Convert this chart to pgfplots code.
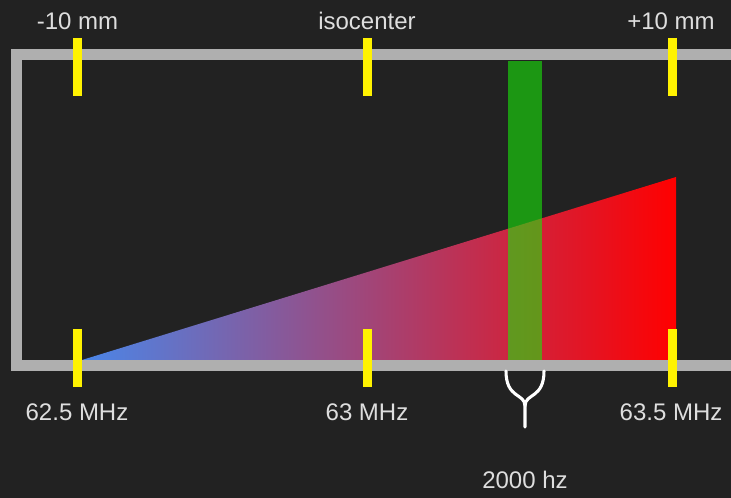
\documentclass[border=0pt]{standalone}
\usepackage{pgfplots}
\pgfplotsset{compat=1.18}
\usepackage{fontspec}
\setmainfont{Liberation Sans}
\definecolor{bg}{RGB}{34,34,34}
\definecolor{frame}{RGB}{175,175,175}
\definecolor{lbl}{RGB}{222,222,222}
\definecolor{startblue}{RGB}{74,134,232}
\definecolor{endred}{RGB}{255,0,0}
\definecolor{band}{RGB}{25,230,10}
\begin{document}
\begin{tikzpicture}
\begin{axis}[
  width=548.25pt, height=373.5pt, scale only axis,
  xmin=0, xmax=731, ymin=0, ymax=498, y dir=reverse,
  axis lines=none, ticks=none,
  axis background/.style={fill=bg},
  clip=true,
]
% frequency gradient triangle
\addplot[draw=none, left color=startblue, right color=endred] coordinates {(82,360) (676,360) (676,177)} -- cycle;
% green band (2000 hz)
\addplot[draw=none, fill=band, fill opacity=0.6] coordinates {(508,61) (542,61) (542,361) (508,361)} -- cycle;
% gray frame
\addplot[frame, line width=8.25pt] coordinates {(760,55) (16.5,55) (16.5,366) (760,366)};
% yellow ticks
\addplot[yellow, line width=6.75pt] coordinates {(77.5,38) (77.5,96)};
\addplot[yellow, line width=6.75pt] coordinates {(367,38) (367,96)};
\addplot[yellow, line width=6.75pt] coordinates {(672.5,38) (672.5,96)};
\addplot[yellow, line width=6.75pt] coordinates {(77.5,329) (77.5,387)};
\addplot[yellow, line width=6.75pt] coordinates {(367,329) (367,387)};
\addplot[yellow, line width=6.75pt] coordinates {(672.5,329) (672.5,387)};
% brace
\draw[white, line width=2.3pt, line cap=round] (axis cs:506,371) .. controls (axis cs:506,399) and (axis cs:525,393) .. (axis cs:525,406) -- (axis cs:525,427);
\draw[white, line width=2.3pt, line cap=round] (axis cs:544,371) .. controls (axis cs:544,399) and (axis cs:525,393) .. (axis cs:525,406);
% labels
\begin{scope}[every node/.style={text=lbl, font=\fontsize{18}{20}\selectfont, anchor=base, inner sep=0pt}]
\node at (axis cs:77.5,30) {-10 mm};
\node at (axis cs:367,30) {isocenter};
\node at (axis cs:671,30) {+10 mm};
\node at (axis cs:77,421) {62.5 MHz};
\node at (axis cs:367,421) {63 MHz};
\node at (axis cs:671,421) {63.5 MHz};
\node at (axis cs:525,488) {2000 hz};
\end{scope}
\end{axis}
\end{tikzpicture}
\end{document}
